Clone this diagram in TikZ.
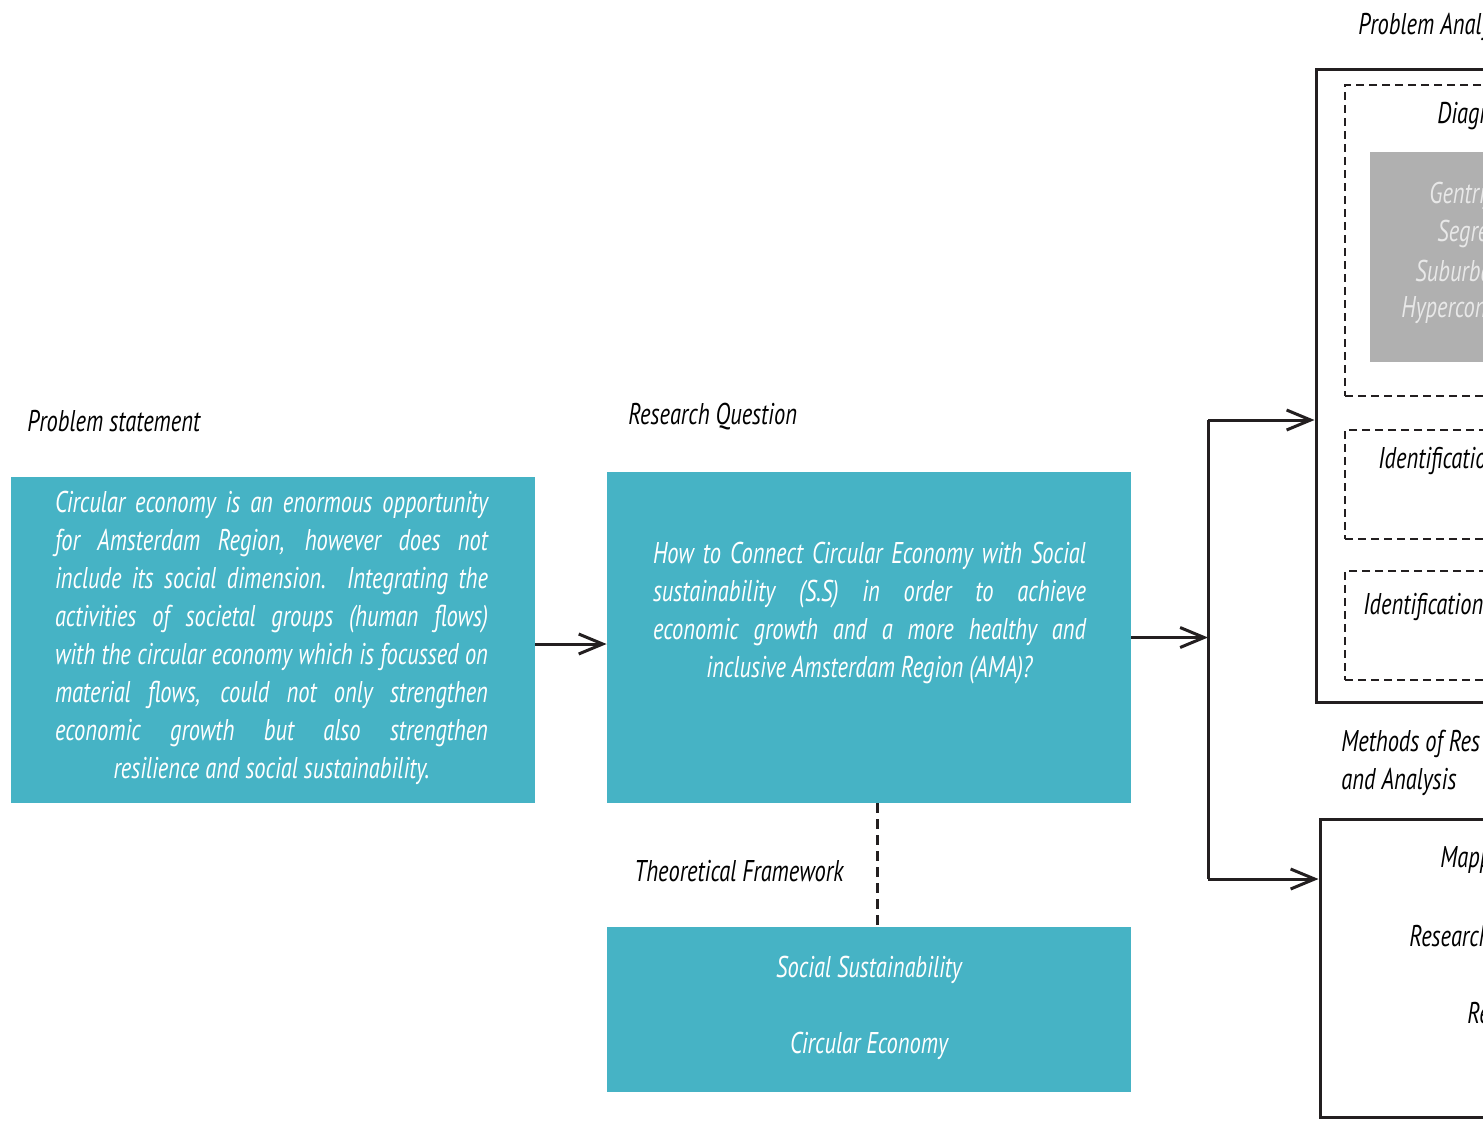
\documentclass[tikz,border=0pt]{standalone}
\usepackage{fontspec}
\setmainfont{PT Sans}[FakeStretch=0.75]
\usepackage{tikz}
\usepackage{xcolor}
\usetikzlibrary{arrows.meta}

\definecolor{boxblue}{RGB}{70,179,197}
\definecolor{boxgray}{RGB}{176,176,176}
\definecolor{graytext}{RGB}{232,232,232}
\definecolor{linedark}{RGB}{35,31,32}

% one justified line of a text block
\newcommand{\jl}[1]{\hbox to\hsize{#1}}

\begin{document}
\begin{tikzpicture}[x=0.5pt,y=-0.5pt,
		every node/.style={font=\fontsize{15}{19}\selectfont\itshape},
		bluebox/.style={fill=boxblue,text=white,inner sep=0pt},
		solidbox/.style={draw=linedark,line width=1.5pt,inner sep=0pt},
		dashbox/.style={draw=linedark,line width=1pt,dash pattern=on 4pt off 2.5pt,inner sep=0pt},
		label/.style={anchor=west,inner sep=0pt},
		bodytext/.style={inner sep=0pt,text=white},
		arr/.style={draw=linedark,line width=1.5pt,-{Straight Barb[length=12pt,width=10pt,line width=1.5pt]}},
		conn/.style={draw=linedark,line width=1.5pt}]
		
		\clip (0,0) rectangle (1483,1120);
		
		% Problem statement
		\node [label] (pslab) at (27,421) {Problem statement};
		\node [bluebox,minimum width=262pt,minimum height=163pt] (ps) at (273,640) {};
		\node [bodytext] (pstext) at (271.5,638) {\parbox{216.5pt}{%
			\jl{Circular economy is an enormous opportunity}
			\jl{for Amsterdam Region, however does not}
			\jl{include its social dimension. Integrating the}
			\jl{activities of societal groups (human flows)}
			\jl{with the circular economy which is focussed on}
			\jl{material flows, could not only strengthen}
			\jl{economic growth but also strengthen}
			\centerline{resilience and social sustainability.}}};
		
		% Research question
		\node [label] (rqlab) at (628,417) {Research Question};
		\node [bluebox,minimum width=262pt,minimum height=165.5pt] (rq) at (869,637.5) {};
		\node [bodytext] (rqtext) at (869.5,613) {\parbox{216.5pt}{%
			\jl{How to Connect Circular Economy with Social}
			\jl{sustainability (S.S) in order to achieve}
			\jl{economic growth and a more healthy and}
			\centerline{inclusive Amsterdam Region (AMA)?}}};
		
		% Theoretical framework
		\node [label] (tflab) at (634,871) {Theoretical Framework};
		\node [bluebox,minimum width=262pt,minimum height=82.5pt] (tf) at (869,1009.5) {};
		\node [text=white] (ss) at (869,970) {Social Sustainability};
		\node [text=white] (ce) at (869,1046) {Circular Economy};
		
		% Problem analysis
		\node [label] (palab) at (1358,27) {Problem Analy};
		\node [solidbox,minimum width=192pt,minimum height=316.5pt] (pa) at (1508,385.5) {};
		\node [dashbox,minimum width=167.5pt,minimum height=155.5pt] (diag) at (1512.5,240.5) {};
		\node [label] (diaglab) at (1437,116) {Diagn};
		\node [fill=boxgray,minimum width=145pt,minimum height=105pt,inner sep=0pt] (gray) at (1515,257) {};
		\node [label,text=graytext] (g1) at (1429,196) {Gentrif};
		\node [label,text=graytext] (g2) at (1437,234) {Segreg};
		\node [label,text=graytext] (g3) at (1415,271) {Suburba};
		\node [label,text=graytext] (g4) at (1401,310) {Hypercon};
		\node [dashbox,minimum width=167.5pt,minimum height=54.5pt] (id1) at (1512.5,484.5) {};
		\node [label] (id1lab) at (1378,461) {Identification};
		\node [dashbox,minimum width=167.5pt,minimum height=54.5pt] (id2) at (1512.5,625.5) {};
		\node [label] (id2lab) at (1363,607) {Identification};
		
		% Methods of research
		\node [label,align=left] (mrlab) at (1341,763) {Methods of Res\\and Analysis};
		\node [solidbox,minimum width=190pt,minimum height=149pt] (mr) at (1510,968) {};
		\node [label] (m1) at (1440,860) {Mapp};
		\node [label] (m2) at (1409,936) {Research};
		\node [label] (m3) at (1467,1013) {Re};
		
		% connectors
		\coordinate (jtop) at (1208,420);
		\coordinate (jmid) at (1208,637.5);
		\coordinate (jbot) at (1208,879);
		\draw [arr] ([yshift=-2pt]ps.east) -- ([yshift=-2pt]ps.east -| rq.west);
		\draw [arr] (rq.east) -- (jmid);
		\draw [conn] (jtop) -- (jbot);
		\draw [arr] (jtop) -- (jtop -| pa.west);
		\draw [arr] (jbot) -- (jbot -| mr.west);
		\draw [draw=linedark,line width=1.5pt,dash pattern=on 5pt off 3pt] ([xshift=4pt]rq.south) -- ([xshift=4pt]tf.north);
		
	\end{tikzpicture}
\end{document}
